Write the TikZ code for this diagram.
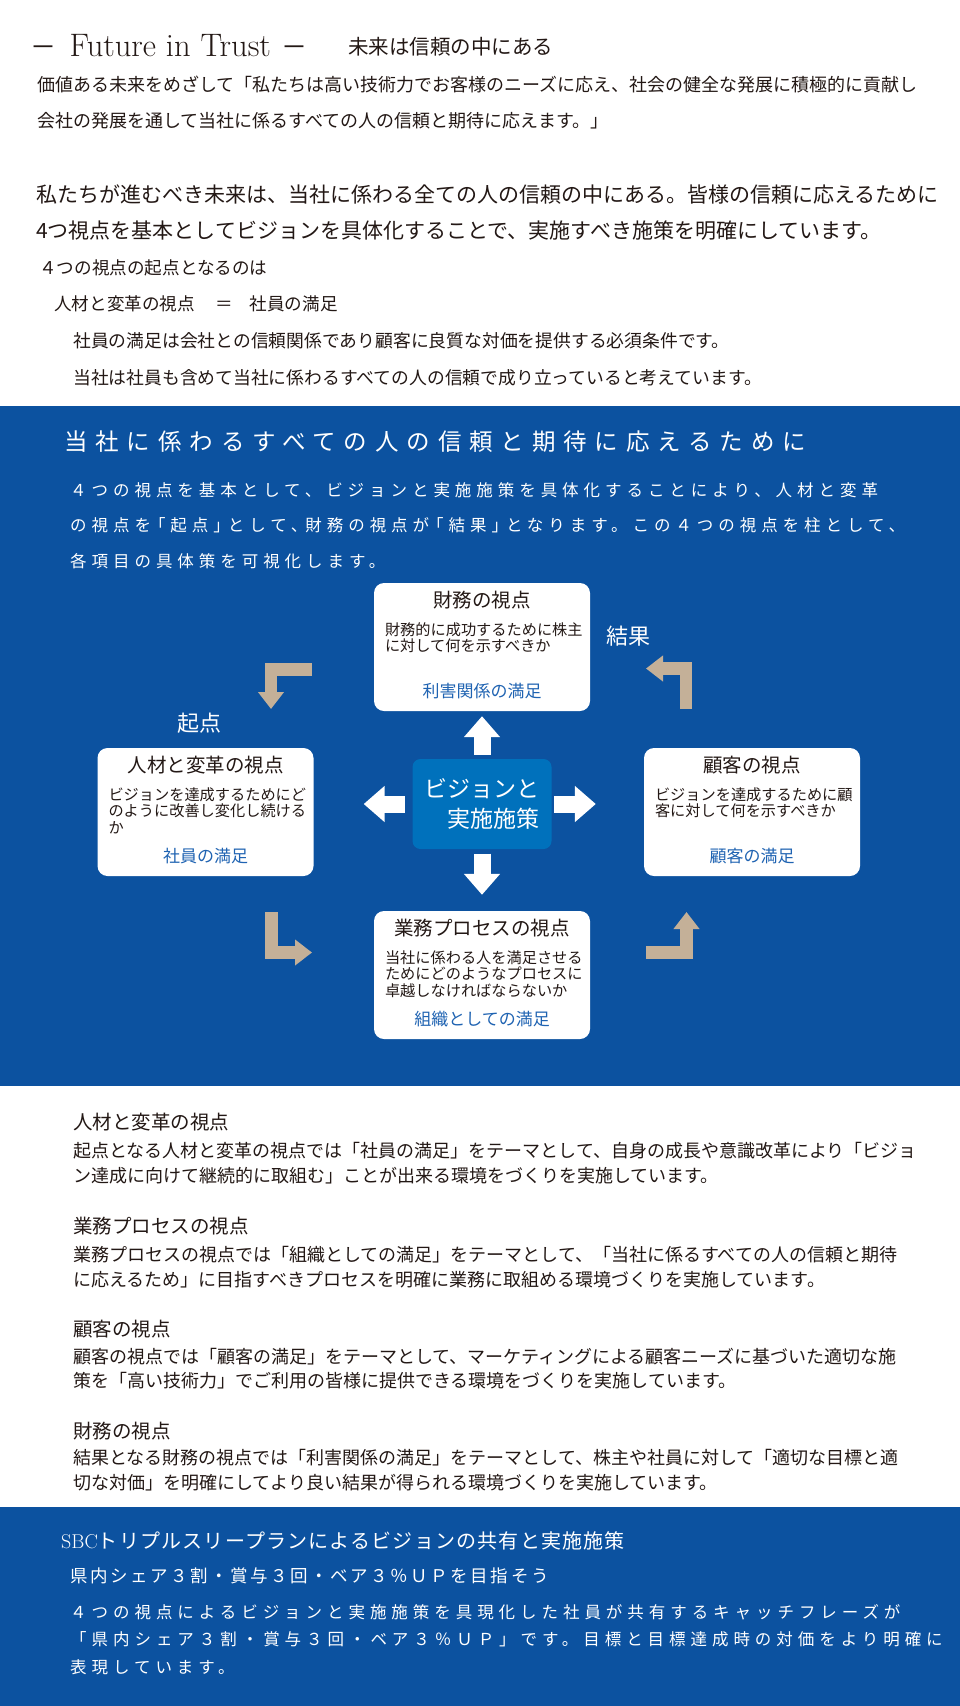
\documentclass[tikz,border=0pt]{standalone}
\usepackage{fontspec}
\newfontfamily\jp{Noto Sans CJK JP}
\usepackage{tikz}
\usetikzlibrary{arrows.meta, positioning}

\definecolor{bandblue}{RGB}{12,82,160}
\definecolor{visionblue}{RGB}{0,113,188}
\definecolor{tanarrow}{RGB}{196,176,152}
\definecolor{labelblue}{RGB}{31,99,178}
\definecolor{inktext}{RGB}{35,24,21}

\newcommand{\jpsize}[2]{\jp\fontsize{#1}{#2}\selectfont}
\newcommand{\jpspaced}[3]{\jp\fontsize{#1}{#2}\selectfont\addfontfeature{LetterSpace=#3}}

\begin{document}
\begin{tikzpicture}[x=1pt, y=-1pt,
    ink/.style={anchor=north west, inner sep=0, align=left, text=inktext},
    onblue/.style={anchor=north west, inner sep=0, align=left, text=white},
    viewbox/.style={rectangle, fill=white, rounded corners=10pt, minimum width=216pt,
                    minimum height=128pt, inner sep=0},
    viewtitle/.style={inner sep=0, text=inktext, font=\jpsize{19.5}{22}},
    viewbody/.style={anchor=north west, inner sep=0, align=left, text=inktext, font=\jpsize{15.2}{16.5}},
    viewlabel/.style={inner sep=0, text=labelblue, font=\jpsize{17}{19}},
    core/.style={rectangle, fill=visionblue, rounded corners=8pt, minimum width=139pt,
                 minimum height=90pt, inner sep=0, align=left, text=white, font=\jpsize{23}{30}},
    blockarrow/.style={white, line width=17pt, -{Triangle[width=35pt, length=21pt]}},
    turnarrow/.style={tanarrow, line width=12.5pt, line join=miter, -{Triangle[width=25pt, length=17pt]}},
    cornerword/.style={inner sep=0, text=white, font=\jpsize{22}{24}}
]
    \useasboundingbox (0,0) rectangle (960,1706);
    \fill[white] (0,0) rectangle (960,1706);

    % Header
    \node[anchor=west, inner sep=0, text=inktext, font=\fontsize{32.5}{34}\selectfont] (motto) at (30.5,46)
        {{\jpsize{26}{28}－}\hspace{13pt}Future in Trust\hspace{10.5pt}{\jpsize{26}{28}－}};
    \node[anchor=west, inner sep=0, text=inktext, font=\jpsize{20.5}{22}] (motto-jp) at (348,47) {未来は信頼の中にある};
    \node[ink, font=\jpsize{18}{36}] (creed) at (37,75.5)
        {価値ある未来をめざして「私たちは高い技術力でお客様のニーズに応え、社会の健全な発展に積極的に貢献し\\
         会社の発展を通して当社に係るすべての人の信頼と期待に応えます。」};
    \node[ink, font=\jpsize{21}{35.5}] (mission) at (36,185)
        {私たちが進むべき未来は、当社に係わる全ての人の信頼の中にある。皆様の信頼に応えるために\\
         4つ視点を基本としてビジョンを具体化することで、実施すべき施策を明確にしています。};
    \node[ink, font=\jpsize{17.6}{20}] (origin) at (39,260) {４つの視点の起点となるのは};
    \node[ink, font=\jpsize{17.6}{20}] (equation) at (54,295.5)
        {人材と変革の視点\hspace{1.16em}＝\hspace{0.95em}社員の満足};
    \node[ink, font=\jpsize{17.8}{36.5}] (trust) at (73,332.5)
        {社員の満足は会社との信頼関係であり顧客に良質な対価を提供する必須条件です。\\
         当社は社員も含めて当社に係わるすべての人の信頼で成り立っていると考えています。};

    % Blue band: four perspectives
    \fill[bandblue] (0,406) rectangle (960,1086);
    \node[onblue, font=\jpspaced{23.5}{26}{33.5}] (band-title) at (64,431)
        {当社に係わるすべての人の信頼と期待に応えるために};
    \node[onblue, font=\jpspaced{16.5}{35.5}{30}] (band-text) at (70,482)
        {４つの視点を基本として、ビジョンと実施施策を具体化することにより、人材と変革\\
         の視点を\kern-2pt「起点」\kern-2ptとして、\kern-2pt財務の視点が\kern-2pt「結果」\kern-2ptとなります。この４つの視点を柱として、\\
         各項目の具体策を可視化します。};

    \node[viewbox] (fin) at (482,647) {};
    \node[viewtitle] (fin-t) at ([yshift=-17.5pt]fin.north) {財務の視点};
    \node[viewbody] (fin-b) at ([xshift=11pt, yshift=-39.5pt]fin.north west)
        {財務的に成功するために株主\\に対して何を示すべきか};
    \node[viewlabel] (fin-l) at ([yshift=20.5pt]fin.south) {利害関係の満足};

    \node[viewbox] (hr) at (205.5,812) {};
    \node[viewtitle] (hr-t) at ([yshift=-17.5pt]hr.north) {人材と変革の視点};
    \node[viewbody] (hr-b) at ([xshift=11pt, yshift=-39.5pt]hr.north west)
        {ビジョンを達成するためにど\\のように改善し変化し続ける\\か};
    \node[viewlabel] (hr-l) at ([yshift=20.5pt]hr.south) {社員の満足};

    \node[viewbox] (cust) at (752,812) {};
    \node[viewtitle] (cust-t) at ([yshift=-17.5pt]cust.north) {顧客の視点};
    \node[viewbody] (cust-b) at ([xshift=11pt, yshift=-39.5pt]cust.north west)
        {ビジョンを達成するために顧\\客に対して何を示すべきか};
    \node[viewlabel] (cust-l) at ([yshift=20.5pt]cust.south) {顧客の満足};

    \node[viewbox] (proc) at (482,975) {};
    \node[viewtitle] (proc-t) at ([yshift=-17.5pt]proc.north) {業務プロセスの視点};
    \node[viewbody] (proc-b) at ([xshift=11pt, yshift=-39.5pt]proc.north west)
        {当社に係わる人を満足させる\\ためにどのようなプロセスに\\卓越しなければならないか};
    \node[viewlabel] (proc-l) at ([yshift=20.5pt]proc.south) {組織としての満足};

    % Vision in the middle
    \node[core] (vision) at (482,804) {ビジョンと\\　実施施策};
    \draw[blockarrow, shorten <=4pt, shorten >=5pt] (vision) -- (fin);
    \draw[blockarrow, shorten <=4.5pt, shorten >=16pt] (vision) -- (proc);
    \draw[blockarrow, shorten <=7.5pt, shorten >=50pt] (vision.west) -- (vision.west -| hr.east);
    \draw[blockarrow, shorten <=2.5pt, shorten >=48pt] (vision.east) -- (vision.east -| cust.west);

    % Cycle arrows
    \coordinate (tl-from) at (312,669.5);
    \coordinate (tl-to) at (271,709);
    \coordinate (tr-from) at (686,709);
    \coordinate (tr-to) at (646,668.5);
    \coordinate (bl-from) at (271.5,912);
    \coordinate (bl-to) at (312,952.5);
    \coordinate (br-from) at (646,952.5);
    \coordinate (br-to) at (686.5,912);
    \draw[turnarrow] (tl-from) -| (tl-to);
    \draw[turnarrow] (tr-from) |- (tr-to);
    \draw[turnarrow] (bl-from) |- (bl-to);
    \draw[turnarrow] (br-from) -| (br-to);
    \node[cornerword] (start-word) at (199.5,723) {起点};
    \node[cornerword] (result-word) at (628,636) {結果};

    % Notes on each perspective
    \node[ink, font=\jpsize{19.5}{22}] (note1-t) at (73,1112.5) {人材と変革の視点};
    \node[ink, font=\jpsize{18}{24.5}] (note1) at (73,1142.5)
        {起点となる人材と変革の視点では「社員の満足」をテーマとして、自身の成長や意識改革により「ビジョ\\
         ン達成に向けて継続的に取組む」ことが出来る環境をづくりを実施しています。};
    \node[ink, font=\jpsize{19.5}{22}] (note2-t) at (73,1216.5) {業務プロセスの視点};
    \node[ink, font=\jpsize{18}{24.5}] (note2) at (73,1246.5)
        {業務プロセスの視点では「組織としての満足」をテーマとして、「当社に係るすべての人の信頼と期待\\
         に応えるため」に目指すべきプロセスを明確に業務に取組める環境づくりを実施しています。};
    \node[ink, font=\jpsize{19.5}{22}] (note3-t) at (73,1319.5) {顧客の視点};
    \node[ink, font=\jpsize{18}{24.5}] (note3) at (73,1347.5)
        {顧客の視点では「顧客の満足」をテーマとして、マーケティングによる顧客ニーズに基づいた適切な施\\
         策を「高い技術力」でご利用の皆様に提供できる環境をづくりを実施しています。};
    \node[ink, font=\jpsize{19.5}{22}] (note4-t) at (73,1421.5) {財務の視点};
    \node[ink, font=\jpsize{18}{24.5}] (note4) at (73,1449.5)
        {結果となる財務の視点では「利害関係の満足」をテーマとして、株主や社員に対して「適切な目標と適\\
         切な対価」を明確にしてより良い結果が得られる環境づくりを実施しています。};

    % Blue band: catch phrase
    \fill[bandblue] (0,1507) rectangle (960,1706);
    \node[onblue, font=\jpspaced{20}{22}{6}] (plan) at (61,1531)
        {{\rmfamily SBC}トリプルスリープランによるビジョンの共有と実施施策};
    \node[onblue, font=\jpspaced{17.5}{20}{14.5}] (slogan) at (70,1568)
        {県内シェア３割・賞与３回・ベア３％ＵＰを目指そう};
    \node[onblue, font=\jpspaced{16.5}{27.5}{30}] (catch) at (70,1604)
        {４つの視点によるビジョンと実施施策を具現化した社員が共有するキャッチフレーズが\\
         「県内シェア３割・賞与３回・ベア３％ＵＰ」です。目標と目標達成時の対価をより明確に\\
         表現しています。};
\end{tikzpicture}
\end{document}
